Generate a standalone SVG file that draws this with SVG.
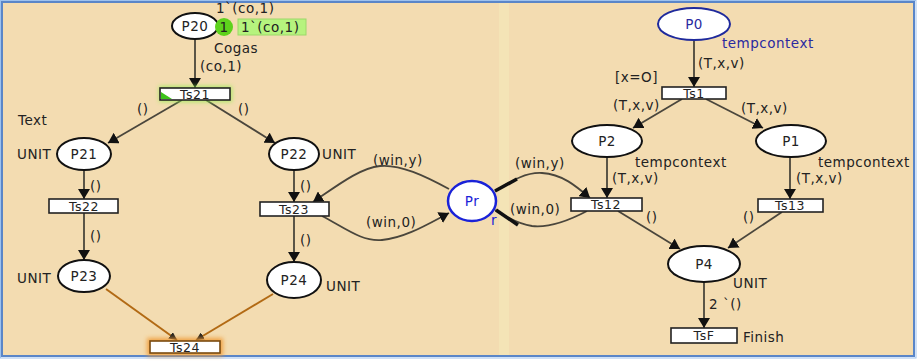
<svg xmlns="http://www.w3.org/2000/svg" width="918" height="361" viewBox="0 0 918 361">
<defs>
<style>
text{font-family:"DejaVu Sans","Liberation Sans",sans-serif;font-size:13.5px;fill:#222;letter-spacing:0.5px}
.t{font-size:12.5px}
.pl{fill:#fff;stroke:#111;stroke-width:2}
.pb{fill:#fff;stroke:#1a22d8;stroke-width:2.5}
.tr{fill:#fff;stroke:#222;stroke-width:1.6}
.arc{fill:none;stroke:#4a463c;stroke-width:1.8}
.arcA{fill:none;stroke:#4a463c;stroke-width:1.8;marker-end:url(#ah)}
.or{fill:none;stroke:#b26a14;stroke-width:2;marker-end:url(#ahs)}
.c{text-anchor:middle}
.blue{fill:#2a2aa0}
</style>
<marker id="ah" viewBox="0 0 10 12" refX="10" refY="6" markerWidth="10" markerHeight="12" markerUnits="userSpaceOnUse" orient="auto">
<path d="M0,0 L10,6 L0,12 z" fill="#111"/>
</marker>
<marker id="ahs" viewBox="0 0 8 8" refX="8" refY="4" markerWidth="8" markerHeight="8" markerUnits="userSpaceOnUse" orient="auto">
<path d="M0,0 L8,4 L0,8 z" fill="#222"/>
</marker>
<filter id="glowG" x="-30%" y="-80%" width="160%" height="260%"><feGaussianBlur stdDeviation="2"/></filter>
</defs>
<rect x="0" y="0" width="918" height="361" fill="#fff"/>
<rect x="2" y="2" width="912" height="354" fill="#F3DCB1"/>
<rect x="499" y="3" width="10" height="352" fill="#F4E4B6"/>
<rect x="2" y="2" width="912" height="354" fill="none" stroke="#5a86c8" stroke-width="2"/>
<rect x="0.5" y="0.5" width="915.5" height="357.5" fill="none" stroke="#9ec2ee" stroke-width="1"/>

<g id="connectors">
<line class="arcA" x1="195" y1="39" x2="195" y2="88"/>
<line class="arcA" x1="182" y1="100" x2="108" y2="143"/>
<line class="arcA" x1="206" y1="100" x2="275" y2="143"/>
<line class="arcA" x1="84" y1="170" x2="84" y2="199"/>
<line class="arcA" x1="294" y1="170" x2="294" y2="202"/>
<line class="arcA" x1="84" y1="213" x2="84" y2="260"/>
<line class="arcA" x1="294" y1="216" x2="294" y2="262"/>
<line class="or" x1="106" y1="289" x2="177" y2="340"/>
<line class="or" x1="273" y1="294" x2="196" y2="340"/>
<path class="arcA" d="M449 189 C425 176 400 164 380 166 C360 168 338 185 313 202"/>
<path class="arcA" d="M322 216 C345 228 362 242 382 240 C405 238 428 224 449 213"/>
<path class="arcA" d="M495 191 C510 182 525 172 542 173 C562 174 576 186 590 198"/>
<path class="arc" d="M587 211 C570 220 550 228 532 226 C518 224 506 217 495 210"/>
<path d="M495 191 L517 179" stroke="#111" stroke-width="3.5" fill="none"/>
<path d="M496 210 L518 225" stroke="#111" stroke-width="3.5" fill="none"/>
<line class="arcA" x1="694" y1="40" x2="694" y2="87"/>
<line class="arcA" x1="682" y1="99" x2="633" y2="128"/>
<line class="arcA" x1="706" y1="99" x2="763" y2="128"/>
<line class="arcA" x1="607" y1="157" x2="607" y2="198"/>
<line class="arcA" x1="790" y1="157" x2="790" y2="199"/>
<line class="arcA" x1="618" y1="211" x2="680" y2="249"/>
<line class="arcA" x1="782" y1="212" x2="728" y2="248"/>
<line class="arcA" x1="704" y1="282" x2="704" y2="328"/>
</g>

<g id="arc-labels">
<text x="200" y="71">(co,1)</text>
<text x="137" y="114">()</text>
<text x="238" y="114">()</text>
<text x="90" y="191">()</text>
<text x="300" y="191">()</text>
<text x="90" y="241">()</text>
<text x="300" y="245">()</text>
<text x="373" y="165">(win,y)</text>
<text x="366" y="227">(win,0)</text>
<text x="515" y="168">(win,y)</text>
<text x="510" y="214">(win,0)</text>
<text x="698" y="68">(T,x,v)</text>
<text x="613" y="110">(T,x,v)</text>
<text x="741" y="113">(T,x,v)</text>
<text x="612" y="183">(T,x,v)</text>
<text x="796" y="183">(T,x,v)</text>
<text x="646" y="222">()</text>
<text x="743" y="222">()</text>
<text x="709" y="309">2 `()</text>
</g>

<text x="18" y="125">Text</text>

<g id="P20">
<ellipse class="pl" cx="195" cy="26" rx="23" ry="13"/>
<text class="c" x="195" y="31">P20</text>
<text x="216" y="13">1`(co,1)</text>
<text x="214" y="53">Cogas</text>
</g>
<g id="P20-token">
<circle cx="224" cy="27" r="9" fill="#5ed21c"/>
<text class="c" x="224" y="32">1</text>
<rect x="238" y="19" width="68" height="16" fill="#b6f37e" stroke="#9cd86a" stroke-width="1"/>
<text x="241" y="32">1`(co,1)</text>
</g>
<g id="Ts21">
<rect x="159" y="86" width="73" height="16" fill="#8ef04a" opacity="0.7" filter="url(#glowG)"/>
<rect class="tr" x="160" y="88" width="70" height="12"/>
<path d="M161 92 L161 99 L172 99 z" fill="#3cc21a"/>
<text class="c t" x="195" y="98.5">Ts21</text>
</g>
<g id="P21">
<ellipse class="pl" cx="84" cy="154" rx="27" ry="16"/>
<text class="c" x="84" y="159">P21</text>
<text x="17" y="159">UNIT</text>
</g>
<g id="P22">
<ellipse class="pl" cx="294" cy="154" rx="25" ry="16"/>
<text class="c" x="294" y="159">P22</text>
<text x="322" y="159">UNIT</text>
</g>
<g id="Ts22">
<rect class="tr" x="49" y="199" width="69" height="14"/>
<text class="c t" x="84" y="210.5">Ts22</text>
</g>
<g id="Ts23">
<rect class="tr" x="260" y="202" width="69" height="14"/>
<text class="c t" x="294" y="213.5">Ts23</text>
</g>
<g id="P23">
<ellipse class="pl" cx="84" cy="276" rx="26" ry="16"/>
<text class="c" x="84" y="281">P23</text>
<text x="17" y="283">UNIT</text>
</g>
<g id="P24">
<ellipse class="pl" cx="294" cy="280" rx="27" ry="18"/>
<text class="c" x="294" y="285">P24</text>
<text x="326" y="291">UNIT</text>
</g>
<g id="Ts24">
<rect x="147" y="338" width="76" height="18" fill="#f09a30" opacity="0.85" filter="url(#glowG)"/>
<rect class="tr" x="150" y="341" width="70" height="12" style="stroke:#7a4a10"/>
<text class="c t" x="185" y="351.5">Ts24</text>
</g>
<g id="Pr">
<ellipse class="pb" cx="472" cy="201" rx="24" ry="20"/>
<text class="c" x="472" y="206" style="fill:#1a22d8">Pr</text>
<text x="491" y="225" style="fill:#1a22d8">r</text>
</g>
<g id="P0">
<ellipse class="pl" cx="694" cy="24" rx="36" ry="16" style="stroke:#1f2a9c"/>
<text class="c blue" x="694" y="29">P0</text>
<text class="blue" x="722" y="48">tempcontext</text>
</g>
<g id="Ts1">
<rect class="tr" x="662" y="87" width="64" height="12"/>
<text class="c t" x="694" y="97.5">Ts1</text>
<text x="615" y="82">[x=O]</text>
</g>
<g id="P2">
<ellipse class="pl" cx="607" cy="141" rx="35" ry="16"/>
<text class="c" x="607" y="146">P2</text>
<text x="635" y="167">tempcontext</text>
</g>
<g id="P1">
<ellipse class="pl" cx="791" cy="141" rx="35" ry="16"/>
<text class="c" x="791" y="146">P1</text>
<text x="818" y="167">tempcontext</text>
</g>
<g id="Ts12">
<rect class="tr" x="571" y="198" width="71" height="13"/>
<text class="c t" x="606" y="209">Ts12</text>
</g>
<g id="Ts13">
<rect class="tr" x="758" y="199" width="65" height="13"/>
<text class="c t" x="790" y="210">Ts13</text>
</g>
<g id="P4">
<ellipse class="pl" cx="704" cy="264" rx="36" ry="18"/>
<text class="c" x="704" y="269">P4</text>
<text x="733" y="288">UNIT</text>
</g>
<g id="TsF">
<rect class="tr" x="671" y="328" width="66" height="15"/>
<text class="c t" x="704" y="340">TsF</text>
<text x="743" y="342">Finish</text>
</g>
</svg>
